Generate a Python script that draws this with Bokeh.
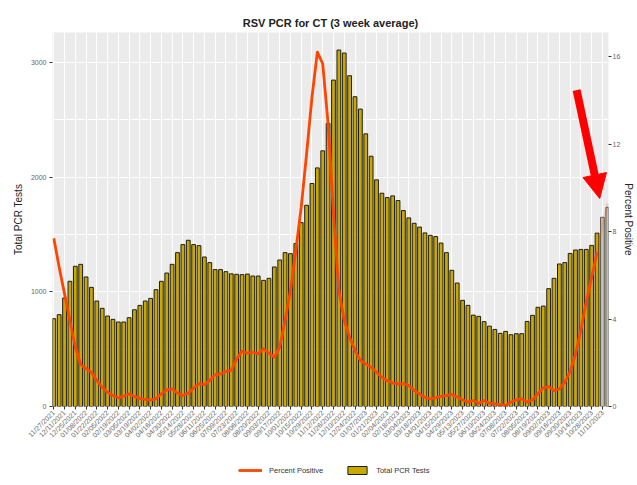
import math
import pandas as pd
from bokeh.plotting import figure
from bokeh.layouts import column
from bokeh.models import (ColumnDataSource, Range1d, LinearAxis, FixedTicker,
                          Legend, LegendItem, Arrow, NormalHead)
from bokeh.embed import file_html
from bokeh.resources import INLINE

# ---------------- data ----------------
week_start = "2021-11-27"

total_tests = [
    766, 801, 946, 1092, 1223, 1240, 1130, 1039, 920, 856,
    789, 760, 737, 737, 775, 844, 882, 920, 943, 1019,
    1092, 1164, 1240, 1342, 1412, 1450, 1412, 1403, 1304, 1255,
    1194, 1194, 1176, 1157, 1153, 1150, 1155, 1138, 1138, 1100,
    1118, 1217, 1278, 1342, 1333, 1421, 1604, 1755, 1945, 2081,
    2230, 2469, 2847, 3109, 3083, 2885, 2702, 2594, 2378, 2183,
    1977, 1860, 1822, 1837, 1796, 1709, 1645, 1598, 1565, 1514,
    1493, 1482, 1426, 1342, 1188, 1077, 926, 882, 797, 786,
    740, 701, 672, 638, 655, 626, 635, 635, 742, 795,
    865, 876, 1028, 1118, 1243, 1255, 1335, 1365, 1370, 1370,
    1405, 1512, 1650, 1737,
]

percent_positive = [
    7.69, 6.37, 5.15, 3.93, 2.71, 1.92, 1.73, 1.57, 1.19, 0.88,
    0.65, 0.50, 0.40, 0.47, 0.58, 0.46, 0.37, 0.32, 0.30, 0.35,
    0.58, 0.76, 0.81, 0.61, 0.50, 0.61, 0.85, 1.04, 1.00, 1.19,
    1.46, 1.49, 1.60, 1.65, 2.18, 2.53, 2.44, 2.48, 2.41, 2.64,
    2.44, 2.25, 2.71, 3.93, 5.30, 7.13, 9.11, 11.55, 14.14, 16.20,
    15.67, 12.92, 8.81, 5.30, 3.93, 3.17, 2.56, 2.10, 1.95, 1.80,
    1.57, 1.34, 1.19, 1.07, 1.04, 1.04, 0.96, 0.73, 0.58, 0.42,
    0.35, 0.40, 0.46, 0.50, 0.55, 0.43, 0.31, 0.20, 0.27, 0.15,
    0.27, 0.15, 0.12, 0.09, 0.05, 0.20, 0.31, 0.35, 0.20, 0.31,
    0.58, 0.85, 0.91, 0.73, 0.80, 1.10, 1.60, 2.40, 3.50, 4.80,
    5.90, 7.05, 8.30, 9.30,
]

incomplete_weeks = 2          # trailing weeks drawn faded
left_ticks = [0, 1000, 2000, 3000]
left_minor = [500, 1500, 2500]
right_ticks = [0, 4, 8, 12, 16]
series_names = ["Percent Positive", "Total PCR Tests"]

# ---------------- derived ----------------
n = len(total_tests)
weeks = pd.date_range(week_start, periods=n, freq="7D")
labels = [d.strftime("%m/%d/%Y") for d in weeks]
idx = list(range(n))
label_idx = idx[::2]

BAR_FILL, BAR_LINE = "#C9A800", "#1E1E1E"
LINE_COLOR = "#FF4500"
complete = n - incomplete_weeks
fills = [BAR_FILL if i < complete else "#C6C1AA" for i in idx]
lines = [BAR_LINE if i < complete else "#5A5A5A" for i in idx]

bar_src = ColumnDataSource(dict(x=idx, total=total_tests, fill=fills, line=lines))
pct_src = ColumnDataSource(dict(x=idx[:complete], pct=percent_positive[:complete]))
faded_src = ColumnDataSource(dict(x=idx[complete - 1:], pct=percent_positive[complete - 1:]))

FONT = "Liberation Sans"

p = figure(width=637, height=448, output_backend="svg", toolbar_location=None,
           x_range=Range1d(-0.24, n - 0.87), y_range=Range1d(0, 3262),
           min_border_left=52, min_border_right=25, min_border_top=32,
           min_border_bottom=42, background_fill_color="#EBEBEB",
           border_fill_color="white", outline_line_color=None,
           title="RSV PCR for CT (3 week average)")
p.extra_y_ranges = {"pct": Range1d(0, 17.1)}

p.title.align = "center"
p.title.text_font = FONT
p.title.text_font_size = "11px"
p.title.text_font_style = "bold"
p.title.text_color = "#222222"
p.title.standoff = 7

p.vbar(x="x", top="total", width=0.7, source=bar_src,
       fill_color="fill", line_color="line", line_width=1)
p.line(x="x", y="pct", source=pct_src, y_range_name="pct",
       line_color=LINE_COLOR, line_width=2.8, line_join="round")
p.line(x="x", y="pct", source=faded_src, y_range_name="pct",
       line_color=LINE_COLOR, line_alpha=0.18, line_width=2.8)

# axes
p.xaxis.ticker = FixedTicker(ticks=label_idx)
p.xaxis.major_label_overrides = {i: labels[i] for i in label_idx}
p.xaxis.major_label_orientation = math.pi / 4
p.yaxis.ticker = FixedTicker(ticks=left_ticks, minor_ticks=left_minor)
p.yaxis.axis_label = "Total PCR Tests"

right = LinearAxis(y_range_name="pct", ticker=FixedTicker(ticks=right_ticks),
                   axis_label="Percent Positive")
p.add_layout(right, "right")

for ax in [p.xaxis[0], p.yaxis[0], right]:
    ax.axis_line_color = None
    ax.major_tick_line_color = "#333333"
    ax.major_tick_out = 3
    ax.major_tick_in = 0
    ax.minor_tick_line_color = None
    ax.major_label_text_font = FONT
    ax.major_label_text_font_size = "7px"
    ax.major_label_text_color = "#666666"
    ax.major_label_standoff = 2
    ax.axis_label_text_font = FONT
    ax.axis_label_text_font_size = "10px"
    ax.axis_label_text_font_style = "normal"
    ax.axis_label_text_color = "#222222"
    ax.axis_label_standoff = 4

right.major_label_standoff = 1
right.axis_label_standoff = 0

p.xgrid.ticker = FixedTicker(ticks=label_idx)
p.xgrid.grid_line_color = "white"
p.xgrid.grid_line_width = 1
p.ygrid.ticker = FixedTicker(ticks=left_ticks, minor_ticks=left_minor)
p.ygrid.grid_line_color = "white"
p.ygrid.grid_line_width = 1
p.ygrid.minor_grid_line_color = "white"
p.ygrid.minor_grid_line_width = 1

# annotation arrow pointing at the latest weeks
arrow = Arrow(x_start=n - 6.8, y_start=total_tests[-1] + 1023,
              x_end=n - 2.5, y_end=total_tests[-1] + 77,
              line_color="#FF0000", line_width=8,
              end=NormalHead(size=24, fill_color="#FF0000",
                             line_color="#FF0000", line_width=1))
p.add_layout(arrow)

# legend strip below the chart: swatch renderers hold a single NaN
# point, so they draw nothing but give the legend its glyph styles
nan = float("nan")
lp = figure(width=637, height=37, output_backend="svg", toolbar_location=None,
            x_range=Range1d(0, 1), y_range=Range1d(0, 1),
            x_axis_type=None, y_axis_type=None, outline_line_color=None,
            min_border=0, min_border_left=0, min_border_right=0,
            min_border_top=0, min_border_bottom=0,
            background_fill_color="white", border_fill_color="white")
lp.xgrid.visible = False
lp.ygrid.visible = False
sw_line = lp.line(x=[nan], y=[nan], line_color=LINE_COLOR, line_width=2.8)
sw_bar = lp.vbar(x=[nan], top=[nan], width=0.7, fill_color=BAR_FILL,
                 line_color=BAR_LINE, line_width=1)
legend = Legend(items=[LegendItem(label=series_names[0], renderers=[sw_line]),
                       LegendItem(label=series_names[1], renderers=[sw_bar])],
                orientation="horizontal", location=(186, 10),
                border_line_color=None, background_fill_alpha=0,
                label_text_font=FONT, label_text_font_size="7.5px",
                label_text_color="#333333", glyph_width=24, glyph_height=10,
                spacing=22, label_standoff=7, margin=0, padding=4)
lp.add_layout(legend, "center")

layout = column(p, lp, spacing=0)
open("out.html", "w").write(file_html(layout, INLINE))
